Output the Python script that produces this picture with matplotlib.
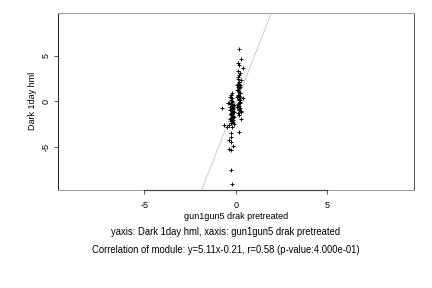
import matplotlib
matplotlib.use("Agg")
import matplotlib.pyplot as plt
import numpy as np

plt.rcParams['font.family'] = ['Liberation Sans', 'DejaVu Sans']

# points
x_vals = [0.18, 0.26, 0.13, 0.20, 0.38, 0.13, 0.18, 0.13, 0.26, 0.16,
          0.09, 0.24, 0.13, 0.20, 0.09, 0.16, 0.24, 0.13, 0.20, 0.09,
          0.42, 0.16, 0.24, 0.13, 0.20, 0.09, 0.24, 0.16, 0.27, 0.13,
          0.20, 0.27, 0.15, 0.22, 0.11, 0.18, 0.25, 0.14, 0.21, 0.10,
          0.17, 0.23, 0.12, 0.19, 0.26, 0.15, 0.22, 0.11, 0.18, 0.24,
          -0.18, -0.26, -0.31, -0.18, -0.27, -0.35, -0.26, -0.16, -0.31, -0.24,
          -0.13, -0.27, -0.18, -0.09, -0.24, -0.16, -0.27, -0.35, -0.18, -0.46,
          -0.66, -0.73, -0.40, -0.26, -0.27, -0.35, -0.27, -0.16, -0.35, -0.24,
          -0.24, -0.18, -0.20, -0.14, -0.22, -0.30, -0.12, -0.19, -0.25, -0.15,
          -0.21, -0.28, -0.11, -0.17, -0.23, -0.20, -0.14, -0.29, -0.16, -0.22,
          -0.10, -0.19, -0.26, -0.13, -0.21]
y_vals = [5.77, 4.67, 4.19, 4.01, 3.64, 3.38, 2.90, 2.46, 2.35, 1.91,
          1.80, 1.76, 1.54, 1.43, 1.25, 1.07, 0.88, 0.74, 0.59, 0.44,
          0.33, 0.15, -0.04, -0.29, -0.51, -0.66, -0.77, -0.96, -1.07, -1.32,
          -1.51, -1.99, -3.38, 3.10, 2.70, 2.10, 1.60, 1.20, 0.95, 0.60,
          0.25, -0.15, -0.40, -0.85, -1.20, -0.20, 0.10, 1.95, 1.70, 0.50,
          0.88, 0.70, 0.51, 0.33, 0.15, -0.15, -0.29, -0.51, -0.66, -0.88,
          -1.07, -1.25, -1.43, -1.69, -1.88, -2.06, -2.35, -2.61, -2.79, -2.87,
          -2.61, -0.77, -0.22, -3.53, -3.90, -4.26, -4.45, -4.93, -5.29, -5.40,
          -7.57, -9.12, 0.05, -0.35, -0.60, -0.95, -1.15, -1.35, -1.55, -1.75,
          -2.00, -2.20, -0.45, -0.70, -1.00, -1.30, -1.60, -1.90, -2.25, -0.10,
          -2.45, -0.55, -1.40, -0.80, -2.15]

slope = 5.11
intercept = -0.21
x_ticks = [-5, 0, 5]
y_ticks = [-5, 0, 5]

fig = plt.figure(figsize=(6, 4), dpi=72)
ax = fig.add_axes([0.1336, 0.340, 0.958 - 0.1336, 0.956 - 0.340])

lim = 9.77
xl = np.array([-lim, lim])
ax.plot(xl, slope * xl + intercept, color='#c8c8c8', lw=0.9, zorder=1)
ax.plot(x_vals, y_vals, '+', color='black', ms=4.5, mew=0.9, zorder=2)

ax.set_xlim(-9.75, 9.75)
ax.set_ylim(-lim, lim)

fs = 9
ax.set_xticks(x_ticks)
ax.set_yticks(y_ticks)
ax.set_xticklabels(['-5', '0', '5'], fontsize=fs)
ax.set_yticklabels(['-5', '0', '5'], fontsize=fs, rotation=90, va='center')
ax.tick_params(length=4, width=0.8, color='#333333')
ax.tick_params(axis='x', pad=7)
ax.tick_params(axis='y', pad=3)

for s in ['top', 'bottom']:
    ax.spines[s].set_color('#999999')
ax.spines['left'].set_color('#222222')
ax.spines['right'].set_color('#555555')
for s in ax.spines.values():
    s.set_linewidth(1.0)
# R-style axis line spanning the ticks
ax.plot([-5, 5], [-lim, -lim], color='#444444', lw=1.2, clip_on=False, zorder=3)

ax.set_xlabel('gun1gun5 drak pretreated', fontsize=fs, labelpad=2)
ax.set_ylabel('Dark 1day hml', fontsize=fs, labelpad=5)

fs2 = 9.5
fig.text(0.5225, 1 - 232 / 288, 'yaxis: Dark 1day hml, xaxis: gun1gun5 drak pretreated',
         ha='center', va='center', fontsize=fs2)
fig.text(0.5225, 1 - 250 / 288, 'Correlation of module: y=5.11x-0.21, r=0.58 (p-value:4.000e-01)',
         ha='center', va='center', fontsize=fs2)

fig.savefig('out.png', dpi=72)
